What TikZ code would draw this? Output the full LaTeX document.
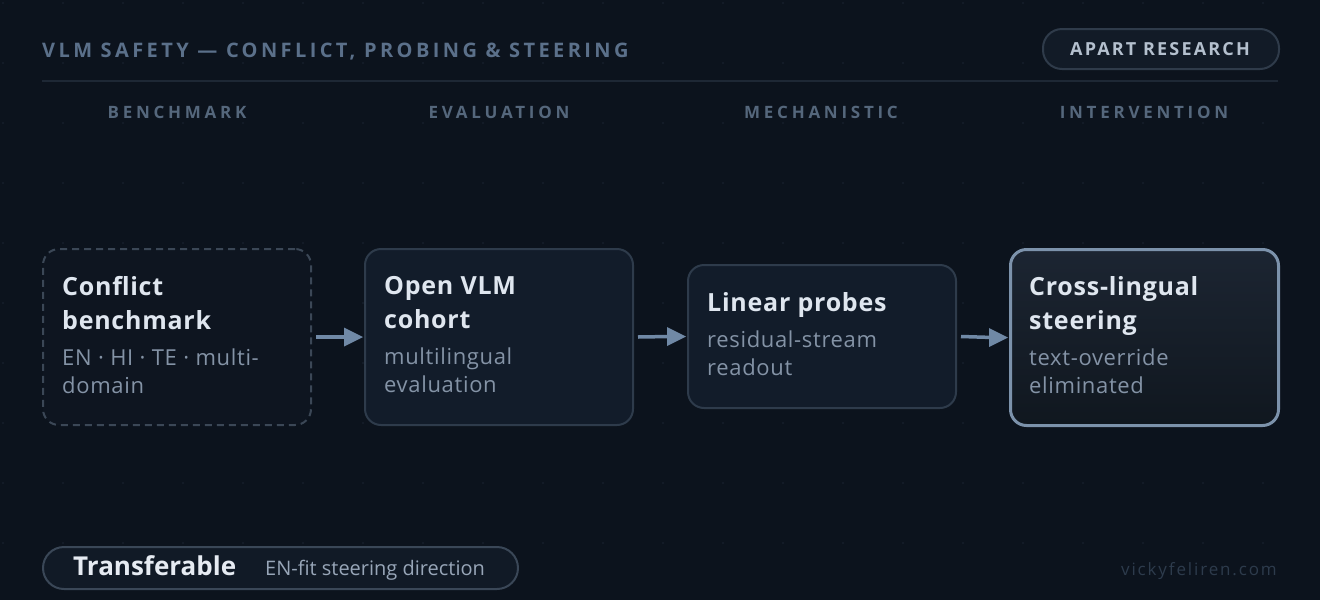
\documentclass[tikz,border=0pt]{standalone}
\usepackage{fontspec}
\setmainfont{Open Sans}
\usetikzlibrary{arrows.meta}
\definecolor{bgc}{HTML}{0C131D}
\definecolor{dotc}{HTML}{161F2B}
\definecolor{titlegrey}{HTML}{5B708A}
\definecolor{headc}{HTML}{55677C}
\definecolor{rulec}{HTML}{1E2835}
\definecolor{pillfill}{HTML}{121B27}
\definecolor{pillline}{HTML}{2F3B4A}
\definecolor{pilltext}{HTML}{B4C0CE}
\definecolor{boxtitle}{HTML}{DFE6EF}
\definecolor{boxsub}{HTML}{8493A6}
\definecolor{b1fill}{HTML}{0E1520}
\definecolor{b1line}{HTML}{3B4756}
\definecolor{bfill}{HTML}{121C2A}
\definecolor{bline}{HTML}{2E3B4B}
\definecolor{b4line}{HTML}{7C92AB}
\definecolor{b4top}{HTML}{1C2532}
\definecolor{b4bot}{HTML}{10171F}
\definecolor{arrowc}{HTML}{7089A6}
\definecolor{transc}{HTML}{E6EBF2}
\definecolor{transsub}{HTML}{98A6B8}
\definecolor{webc}{HTML}{2D3B4C}
\definecolor{bpillfill}{HTML}{111A26}
\definecolor{bpillline}{HTML}{3A4757}
\newcommand\boxtext[2]{\parbox[c]{236pt}{\raggedright\bfseries\fontsize{25}{34}\selectfont\addfontfeatures{LetterSpace=3}\color{boxtitle}#1\par\vspace{8pt}\mdseries\fontsize{22}{28}\selectfont\addfontfeatures{LetterSpace=3}\color{boxsub}#2\par}}
\newcommand\flowarrow[2]{%
  \draw[flowline] ([xshift=4pt]#1.east) -- ([xshift=-16pt]#2.west);
  \fill[arrowc] ([xshift=-1pt]#2.west) -- ++(-19,-9.5) -- ++(0,19) -- cycle;}
\tikzset{
  stage/.style={rounded corners=16pt, line width=2pt, anchor=north west, minimum width=268pt, inner sep=0pt},
  boxlabel/.style={anchor=west, inner sep=0pt},
  header/.style={anchor=base, text=headc, font=\bfseries\fontsize{17}{20}\selectfont\addfontfeatures{LetterSpace=22}},
  flowline/.style={draw=arrowc, line width=3.5pt},
}
\begin{document}
\begin{tikzpicture}[x=1pt,y=-1pt]
\fill[bgc] (0,0) rectangle (1320,600);
\useasboundingbox (0,0) rectangle (1320,600);
\foreach \i in {0,...,21} \foreach \j in {0,...,9} \fill[dotc] (3+60*\i,3+60*\j) circle (1.1pt);
% header
\node[anchor=base west, inner sep=0pt, text=titlegrey, font=\bfseries\fontsize{20}{24}\selectfont\addfontfeatures{LetterSpace=17}] (title) at (42,57) {VLM SAFETY — CONFLICT, PROBING \& STEERING};
\node[draw=pillline, fill=pillfill, line width=2pt, rounded corners=19pt, minimum width=236pt, minimum height=40pt, anchor=north west] (apart) at (1042,28) {};
\node[anchor=base, inner sep=0pt, text=pilltext, font=\bfseries\fontsize{18}{20}\selectfont\addfontfeatures{LetterSpace=12}] (apartlbl) at (1160,55) {APART RESEARCH};
\coordinate (rl) at (42,81);
\coordinate (rr) at (1278,81);
\draw[rulec, line width=2pt] (rl) -- (rr);
\node[header] (h1) at (177,118) {BENCHMARK};
\node[header] (h2) at (499,118) {EVALUATION};
\node[header] (h3) at (821,118) {MECHANISTIC};
\node[header] (h4) at (1144,118) {INTERVENTION};
% boxes
\node[stage, draw=b1line, fill=b1fill, dash pattern=on 7pt off 5pt, minimum height=176pt] (b1) at (42,248) {};
\node[stage, draw=bline, fill=bfill, minimum height=176pt] (b2) at (364,248) {};
\node[stage, draw=bline, fill=bfill, minimum height=143pt] (b3) at (687,264) {};
\node[stage, draw=b4line, line width=3pt, top color=b4top, bottom color=b4bot, minimum height=176pt] (b4) at (1009,248) {};
\node[boxlabel] (t1) at ([xshift=20pt,yshift=2pt]b1.west) {\boxtext{Conflict\\benchmark}{EN · HI · TE · multi-\\domain}};
\node[boxlabel] (t2) at ([xshift=20pt,yshift=2pt]b2.west) {\boxtext{Open VLM\\cohort}{multilingual\\evaluation}};
\node[boxlabel] (t3) at ([xshift=20pt,yshift=2pt]b3.west) {\boxtext{Linear probes}{residual-stream\\readout}};
\node[boxlabel] (t4) at ([xshift=20pt,yshift=2pt]b4.west) {\boxtext{Cross-lingual\\steering}{text-override\\eliminated}};
% arrows
\flowarrow{b1}{b2}
\flowarrow{b2}{b3}
\flowarrow{b3}{b4}
% footer
\node[draw=bpillline, fill=bpillfill, line width=2pt, rounded corners=21pt, minimum width=475pt, minimum height=42pt, anchor=north west] (fpill) at (42,546) {};
\node[anchor=base west, inner sep=0pt, text=transc, font=\bfseries\fontsize{26}{28}\selectfont] (trans) at (73,575) {Transferable};
\node[anchor=base west, inner sep=0pt, text=transsub, font=\fontsize{20}{22}\selectfont] (transd) at (265,575) {EN-fit steering direction};
\node[anchor=base east, inner sep=0pt, text=webc, font=\fontsize{17}{20}\selectfont\addfontfeatures{LetterSpace=11}] (web) at (1277,575) {vickyfeliren.com};
\end{tikzpicture}
\end{document}
